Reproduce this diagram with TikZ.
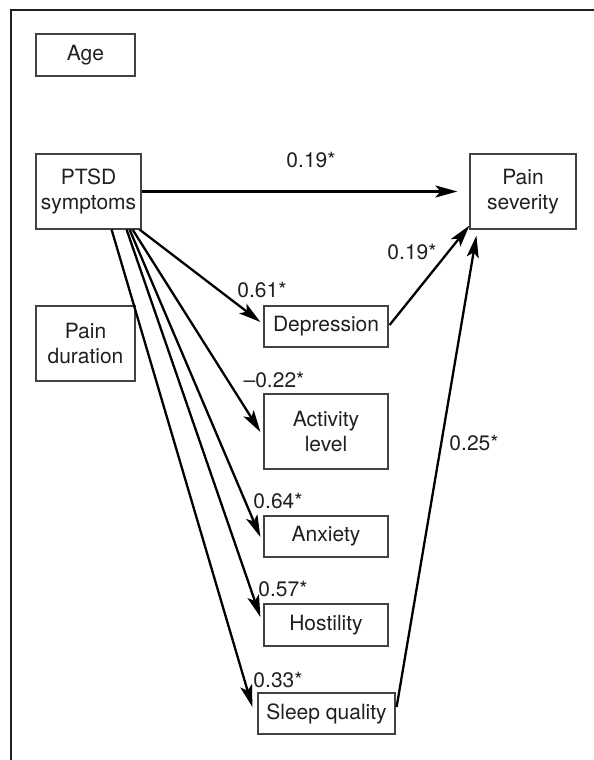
\documentclass[tikz,border=0pt]{standalone}
\usepackage{fontspec}
\setmainfont{TeX Gyre Heros}
\usetikzlibrary{arrows.meta,calc}
\definecolor{ink}{HTML}{231F20}
\tikzset{
  varbox/.style={draw=ink!85, line width=1.2pt, inner sep=0pt, align=center,
    text=ink, font=\fontsize{21}{25}\selectfont},
  coef/.style={inner sep=0pt, text=ink, font=\fontsize{21}{25}\selectfont},
  path/.style={draw=black, line width=2.3pt,
    -{Stealth[length=22pt,width=12pt,inset=5pt]}},
  frameline/.style={draw=ink, line width=1.3pt}
}
\begin{document}
\begin{tikzpicture}[x=1pt,y=-1pt]
\useasboundingbox (0,0) rectangle (594,760);
\draw[frameline] (594,10) -- (11,10) -- (11,760);

\node[varbox, minimum width=99pt, minimum height=42pt] (age) at (85.5,55) {Age};
\node[varbox, minimum width=105pt, minimum height=75pt] (ptsd) at (88.5,191.5) {PTSD\\symptoms};
\node[varbox, minimum width=106pt, minimum height=75pt] (pain) at (523,191.5) {Pain\\severity};
\node[varbox, minimum width=99pt, minimum height=75pt] (dur) at (85.5,343.5) {Pain\\duration};
\node[varbox, minimum width=124pt, minimum height=41pt] (dep) at (326,326.5) {Depression};
\node[varbox, minimum width=124pt, minimum height=75pt] (act) at (326,431.5) {Activity\\level};
\node[varbox, minimum width=124pt, minimum height=41pt] (anx) at (326,536.5) {Anxiety};
\node[varbox, minimum width=124pt, minimum height=42pt] (host) at (326,625) {Hostility};
\node[varbox, minimum width=137pt, minimum height=41pt] (sleep) at (326.5,713.5) {Sleep quality};

% paths
\draw[path] (ptsd.east) -- ($(pain.west)+(-12,0)$);
\draw[path] ($(dep.east)+(1,-1.5)$) -- ($(pain.south west)+(0,-4)$);
\draw[path] ($(sleep.east)+(1,-6.5)$) -- ($(pain.south west)+(7,6)$);
\draw[path] ($(ptsd.south east)+(-2,0)$) -- ($(dep.west)+(-3,-4.5)$);
\draw[path] ($(ptsd.south east)+(-9,0)$) -- ($(act.west)+(-3,0.5)$);
\draw[path] ($(ptsd.south east)+(-12,0)$) -- ($(anx.west)+(-3,0.5)$);
\draw[path] ($(ptsd.south east)+(-15,0)$) -- ($(host.west)+(-3,-8)$);
\draw[path] ($(ptsd.south east)+(-30,0)$) -- ($(sleep.west)+(-5,-6.5)$);

% coefficients
\node[coef] (c1) at (311,160) {0.19*};
\node[coef] (c2) at (412,252) {0.19*};
\node[coef] (c3) at (262,290) {0.61*};
\node[coef] (c4) at (274,380) {–0.22*};
\node[coef] (c5) at (278,501) {0.64*};
\node[coef] (c6) at (283,589) {0.57*};
\node[coef] (c7) at (278,680) {0.33*};
\node[coef] (c8) at (474,443) {0.25*};
\end{tikzpicture}
\end{document}
